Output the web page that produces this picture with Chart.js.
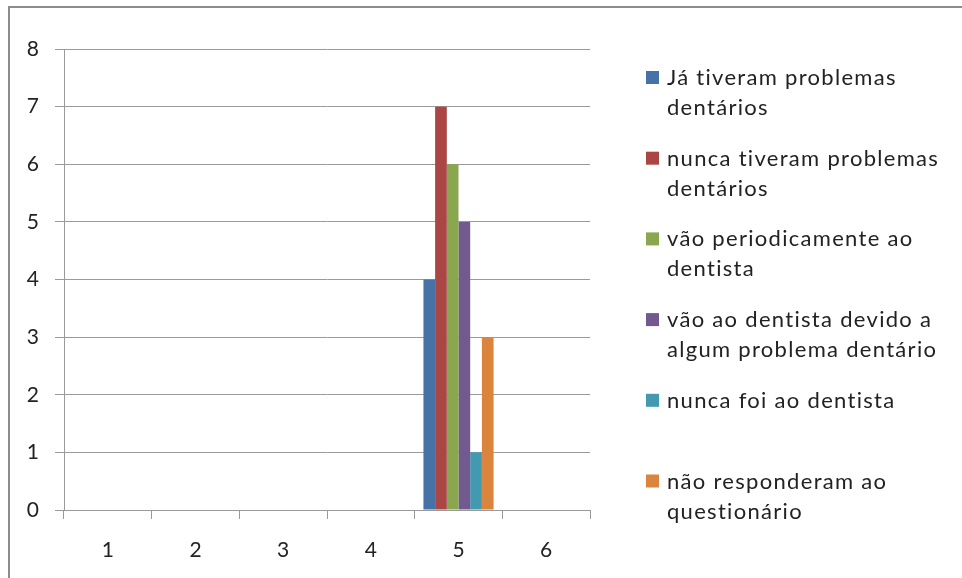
<!DOCTYPE html>
<html>
<head>
<meta charset="utf-8">
<script src="https://cdn.jsdelivr.net/npm/chart.js@4/dist/chart.umd.min.js"></script>
<style>
  html, body { margin: 0; padding: 0; background: #fff; }
  #wrap { position: relative; width: 962px; height: 578px; }
</style>
</head>
<body>
<div id="wrap"><canvas id="chart" width="962" height="578"></canvas></div>
<script>
// Categories on the x axis
const categories = ['1', '2', '3', '4', '5', '6'];

// One value array per series (only group 5 has answers)
const jaTiveram      = [null, null, null, null, 4, null];
const nuncaTiveram   = [null, null, null, null, 7, null];
const vaoPeriodica   = [null, null, null, null, 6, null];
const vaoDevido      = [null, null, null, null, 5, null];
const nuncaFoi       = [null, null, null, null, 1, null];
const naoResponderam = [null, null, null, null, 3, null];

// Legend text, split into its printed lines
const seriesLabels = [
  ['Já tiveram problemas', 'dentários'],
  ['nunca tiveram problemas', 'dentários'],
  ['vão periodicamente ao', 'dentista'],
  ['vão ao dentista devido a', 'algum problema dentário'],
  ['nunca foi ao dentista'],
  ['não responderam ao', 'questionário']
];

// Y axis tick values
const yTicks = [0, 1, 2, 3, 4, 5, 6, 7, 8];

const seriesValues = [jaTiveram, nuncaTiveram, vaoPeriodica, vaoDevido, nuncaFoi, naoResponderam];
const seriesColors = ['#4672a8', '#aa4644', '#8aa64f', '#725a90', '#4299b0', '#db843d'];

const FONT = 'Lato, "Open Sans", "DejaVu Sans", sans-serif';
const TEXT = '#222222';
const GRID = '#9a9a9a';

// Frame lines along the top and left edge of the picture
const framePlugin = {
  id: 'frame',
  beforeDraw(chart) {
    const ctx = chart.ctx;
    ctx.save();
    ctx.fillStyle = '#ffffff';
    ctx.fillRect(0, 0, chart.width, chart.height);
    ctx.strokeStyle = '#8c8c8c';
    ctx.lineWidth = 2;
    ctx.beginPath();
    ctx.moveTo(9, chart.height);
    ctx.lineTo(9, 7);
    ctx.lineTo(chart.width, 7);
    ctx.stroke();
    ctx.restore();
  }
};

// Legend on the right, each entry with room for two lines of text
const sideLegend = {
  id: 'sideLegend',
  afterDraw(chart) {
    const ctx = chart.ctx;
    ctx.save();
    ctx.font = '22px ' + FONT;
    if ('letterSpacing' in ctx) ctx.letterSpacing = '1.3px';
    ctx.textBaseline = 'alphabetic';
    ctx.textAlign = 'left';
    chart.data.datasets.forEach((ds, i) => {
      const base = 85 + i * 80.7;
      ctx.fillStyle = ds.backgroundColor;
      ctx.fillRect(646, base - 14, 13, 13);
      ctx.fillStyle = TEXT;
      seriesLabels[i].forEach((line, j) => {
        ctx.fillText(line, 667, base + j * 30);
      });
    });
    ctx.restore();
  }
};

new Chart(document.getElementById('chart'), {
  type: 'bar',
  data: {
    labels: categories,
    datasets: seriesValues.map((vals, i) => ({
      label: seriesLabels[i].join(' '),
      data: vals,
      backgroundColor: seriesColors[i],
      borderWidth: 0,
      categoryPercentage: 0.8,
      barPercentage: 1.0
    }))
  },
  options: {
    responsive: false,
    animation: false,
    layout: { padding: { left: 0, top: 49, right: 372, bottom: 0 } },
    plugins: {
      legend: { display: false },
      tooltip: { enabled: false }
    },
    scales: {
      x: {
        grid: { drawOnChartArea: false, drawTicks: true, tickLength: 9, color: GRID, lineWidth: 1 },
        border: { color: GRID, width: 1 },
        ticks: { color: TEXT, font: { family: FONT, size: 21 }, padding: 19, maxRotation: 0 },
        afterFit(scale) { scale.height = 68; }
      },
      y: {
        min: 0,
        max: 8,
        afterBuildTicks(scale) { scale.ticks = yTicks.map(v => ({ value: v })); },
        grid: { color: GRID, lineWidth: 1, tickLength: 9 },
        border: { color: GRID, width: 1 },
        ticks: { color: TEXT, font: { family: FONT, size: 21 }, padding: 16 },
        afterFit(scale) { scale.width = 64; }
      }
    }
  },
  plugins: [framePlugin, sideLegend]
});
</script>
</body>
</html>
